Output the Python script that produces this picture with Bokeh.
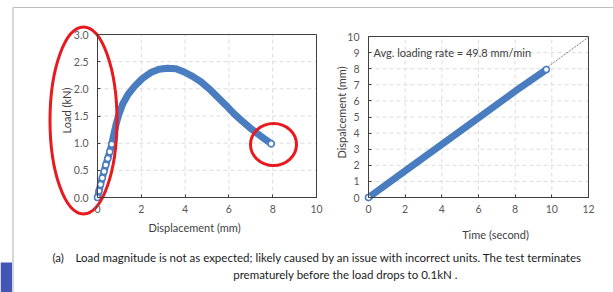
import numpy as np
from bokeh.plotting import figure
from bokeh.models import Range1d, LinearAxis, FixedTicker, PrintfTickFormatter
from bokeh.core.properties import value
from bokeh.embed import file_html
from bokeh.resources import INLINE

# ---------------- data ----------------
load_disp = [0.0, 0.07, 0.14, 0.22, 0.30, 0.38, 0.47, 0.56, 0.65, 0.74, 0.85, 0.97,
             1.15, 1.40, 1.70, 2.05, 2.43, 2.81, 3.20, 3.58, 3.96, 4.34, 4.72, 5.10,
             5.48, 5.86, 6.24, 6.62, 7.00, 7.45, 7.93]
load_kn = [0.0, 0.12, 0.24, 0.36, 0.48, 0.60, 0.72, 0.84, 0.98, 1.15, 1.35, 1.52,
           1.72, 1.90, 2.05, 2.19, 2.30, 2.36, 2.38, 2.37, 2.31, 2.23, 2.13, 2.00,
           1.85, 1.70, 1.54, 1.40, 1.27, 1.13, 0.99]
n_sparse = 9  # early samples that show as separate markers

time_s = [0.0, 2.0, 4.0, 6.0, 8.0, 9.70]
disp_mm = [0.0, 1.65, 3.30, 4.95, 6.60, 7.95]
trend_t = [0.0, 12.0]
trend_d = [0.0, 9.96]

left_xticks = [0, 2, 4, 6, 8, 10]
left_yticks = [0.0, 0.5, 1.0, 1.5, 2.0, 2.5, 3.0]
right_xticks = [0, 2, 4, 6, 8, 10, 12]
right_yticks = [0, 1, 2, 3, 4, 5, 6, 7, 8, 9, 10]

left_xlabel = "Displacement (mm)"
left_ylabel = "Load (kN)"
right_xlabel = "Time (second)"
right_ylabel = "Dispalcement (mm)"
note = "Avg. loading rate = 49.8 mm/min"
cap_a = "(a)"
cap_1 = "Load magnitude is not as expected; likely caused by an issue with incorrect units. The test terminates"
cap_2 = "prematurely before the load drops to 0.1kN ."

# ---------------- layout ----------------
W, H = 613, 292
OX, OY = 0, 0
FONT = "Lato"
BLUE = "#4a7dbf"
RED = "#e8191f"
AX = "#404040"
GRID = "#dcdcdc"


def fx(px):
    return px - OX


def fy(py):
    return (OY + H) - py


p = figure(width=W, height=H, x_range=Range1d(0, W), y_range=Range1d(0, H),
           output_backend="svg", toolbar_location=None, min_border=0,
           x_axis_type=None, y_axis_type=None)
p.outline_line_color = None
p.background_fill_color = "white"
p.border_fill_color = "white"


def add_chart(name, box, xticks, yticks, xfmt, yfmt):
    l, r, t, b = box
    xmin, xmax = xticks[0], xticks[-1]
    ymin, ymax = yticks[0], yticks[-1]
    X0, X1 = fx(l), fx(r)
    Y0, Y1 = fy(b), fy(t)
    sx = (X1 - X0) / (xmax - xmin)
    sy = (Y1 - Y0) / (ymax - ymin)
    p.extra_x_ranges[name] = Range1d(xmin - X0 / sx, xmin + (W - X0) / sx)
    p.extra_y_ranges[name] = Range1d(ymin - Y0 / sy, ymin + (H - Y0) / sy)
    kw = dict(x_range_name=name, y_range_name=name)
    # grid
    gx = xticks[1:-1]
    p.segment(x0=gx, y0=[ymin] * len(gx), x1=gx, y1=[ymax] * len(gx),
              line_color=GRID, line_dash="4 3", line_width=1, **kw)
    gy = yticks[1:-1]
    p.segment(x0=[xmin] * len(gy), y0=gy, x1=[xmax] * len(gy), y1=gy,
              line_color=GRID, line_dash="4 3", line_width=1, **kw)
    # box
    p.quad(left=[xmin], right=[xmax], bottom=[ymin], top=[ymax], fill_color=None,
           line_color=AX, line_width=1, **kw)
    common = dict(major_tick_in=3, major_tick_out=0, minor_tick_in=0, minor_tick_out=0,
                  axis_line_color=AX, major_tick_line_color=AX,
                  major_label_text_font=FONT, major_label_text_font_size="10.5px",
                  major_label_text_color="#595959")
    xa = LinearAxis(fixed_location=ymin, bounds=(xmin, xmax),
                    ticker=FixedTicker(ticks=xticks),
                    formatter=PrintfTickFormatter(format=xfmt),
                    major_label_standoff=7, **common, **kw)
    p.add_layout(xa, "below")
    ya = LinearAxis(fixed_location=xmin, bounds=(ymin, ymax),
                    ticker=FixedTicker(ticks=yticks),
                    formatter=PrintfTickFormatter(format=yfmt),
                    major_label_standoff=9, **common, **kw)
    p.add_layout(ya, "left")
    return kw


kwL = add_chart("L", (97, 316, 34, 197), left_xticks, left_yticks, "%d", "%.1f")
kwR = add_chart("R", (368, 588, 36, 197), right_xticks, right_yticks, "%d", "%d")

# left data
p.line(load_disp, load_kn, line_color=BLUE, line_width=7, line_cap="round", **kwL)
mx = load_disp[:n_sparse] + load_disp[-1:]
my = load_kn[:n_sparse] + load_kn[-1:]
p.scatter(mx, my, size=6, marker="circle", fill_color="white", line_color=BLUE,
          line_width=1.5, **kwL)

# right data
p.line(trend_t, trend_d, line_color="#595959", line_dash="1 1", line_width=1, **kwR)
p.line(time_s, disp_mm, line_color=BLUE, line_width=7, line_cap="round", **kwR)
p.scatter([time_s[0], time_s[-1]], [disp_mm[0], disp_mm[-1]], size=6, marker="circle",
          fill_color="white", line_color=BLUE, line_width=1.5, **kwR)
p.text(x=[0.27], y=[9.0], text=[note], text_font=value(FONT),
       text_font_size=value("11px"), text_color=AX, text_align="left",
       text_baseline="middle", **kwR)

# axis titles
tk = dict(text_font=value(FONT), text_font_size=value("11px"), text_color=AX,
          text_align="center", text_baseline="middle")
p.text(x=[fx(194), fx(495)], y=[fy(227), fy(234)], text=[left_xlabel, right_xlabel], **tk)
p.text(x=[fx(66), fx(341)], y=[fy(110), fy(112)], text=[left_ylabel, right_ylabel],
       angle=np.pi / 2, **tk)

# caption
ck = dict(text_font=value(FONT), text_font_size=value("11.5px"), text_color="#1a1a1a",
          text_baseline="middle")
p.text(x=[fx(52)], y=[fy(257)], text=[cap_a], text_align="left", **ck)
p.text(x=[fx(75)], y=[fy(257)], text=[cap_1], text_align="left", **ck)
p.text(x=[fx(345)], y=[fy(274)], text=[cap_2], text_align="center", **ck)

# page frame and side bar
p.segment(x0=[fx(12.5)], y0=[0], x1=[fx(12.5)], y1=[fy(7)], line_color="#bdbdbd", line_width=1.2)
p.segment(x0=[fx(12.5)], y0=[fy(7)], x1=[W], y1=[fy(7)], line_color="#bdbdbd", line_width=1.2)
p.quad(left=[0], right=[fx(11.5)], bottom=[0], top=[fy(262)], fill_color="#4355b5",
       line_color=None)

# red highlight marks
p.ellipse(x=[fx(83)], y=[fy(120)], width=67, height=187, fill_color=None,
          line_color=RED, line_width=3)
p.ellipse(x=[fx(273)], y=[fy(144)], width=46, height=42, fill_color=None,
          line_color=RED, line_width=3)

open("out.html", "w").write(file_html(p, INLINE))
